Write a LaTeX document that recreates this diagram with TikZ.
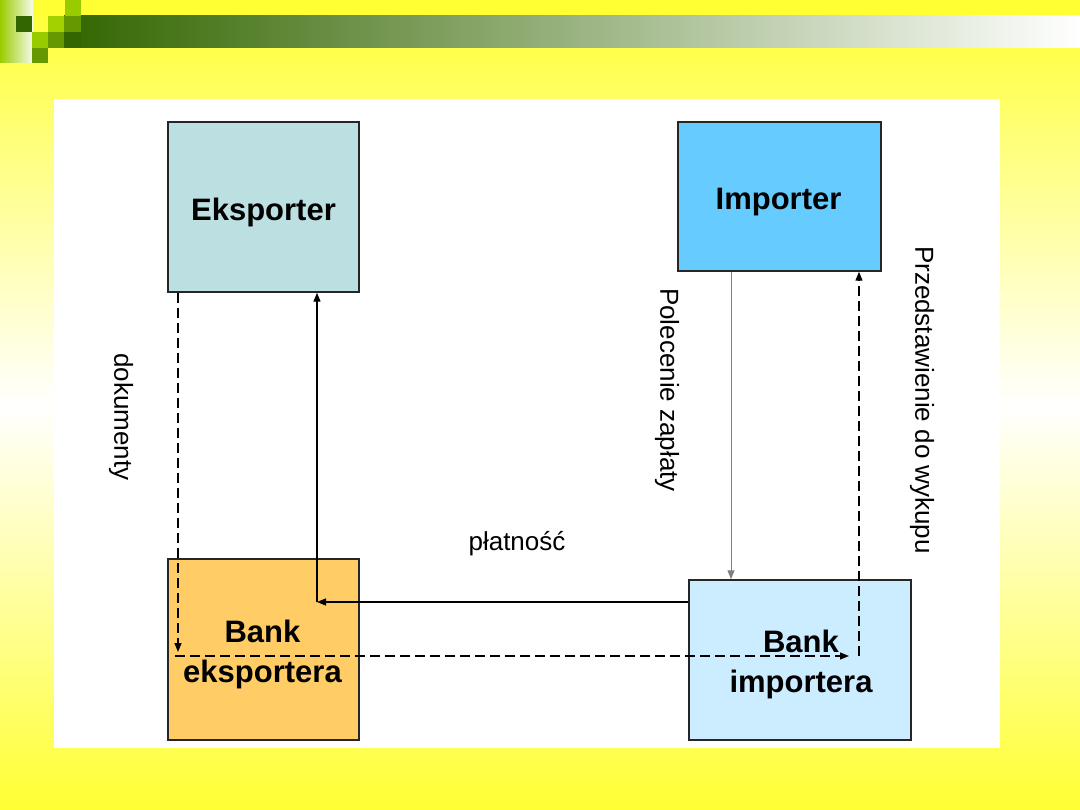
\documentclass[tikz,border=0pt]{standalone}
\usepackage{fontspec}
\setmainfont{Liberation Sans}
\usetikzlibrary{arrows.meta,calc}
\definecolor{bgyellow}{HTML}{FFFF33}
\definecolor{dkgreen}{HTML}{336600}
\definecolor{mdgreen}{HTML}{669900}
\definecolor{ltgreen}{HTML}{99CC00}
\definecolor{ceks}{HTML}{BCE0E2}
\definecolor{cimp}{HTML}{66CCFF}
\definecolor{cbe}{HTML}{FFCC66}
\definecolor{cbi}{HTML}{CCECFF}
\tikzset{
  box/.style={draw=black!85, line width=1.5pt, inner sep=0pt},
  boxtext/.style={inner sep=0pt, align=center,
    font=\fontsize{31}{40}\selectfont\bfseries},
  lbl/.style={font=\fontsize{26}{30}\selectfont, inner sep=0pt},
  conn/.style={line width=1.3pt, -{Triangle[length=9pt,width=7pt]}},
  dconn/.style={conn, dash pattern=on 10pt off 5pt},
}
\begin{document}
\begin{tikzpicture}[x=1pt,y=-1pt]
\useasboundingbox (0,0) rectangle (1080,810);
% background
\shade[top color=bgyellow, bottom color=bgyellow, middle color=white] (0,0) rectangle (1080,810);
\fill[bgyellow] (0,0) rectangle (1080,16);
% decoration
\shade[left color=ltgreen, right color=ltgreen!8] (0,0) rectangle (33,63);
\shade[left color=dkgreen, right color=white] (64,16) rectangle (1080,48);
\fill[dkgreen] (16,16) rectangle (32,32);
\fill[ltgreen] (65,0) rectangle (81,16);
\fill[ltgreen!90!yellow] (48,16) rectangle (64,32);
\fill[mdgreen] (64,16) rectangle (81,32);
\fill[ltgreen] (32,32) rectangle (48,48);
\fill[mdgreen] (48,32) rectangle (64,48);
\fill[dkgreen] (64,32) rectangle (81,48);
\fill[mdgreen] (32,48) rectangle (48,63);
% white panel
\fill[white] (54,99) rectangle (1000,748);
% boxes
\node[box, fill=ceks, minimum width=191pt, minimum height=170pt] (eks) at (263.5,207) {};
\node[box, fill=cimp, minimum width=203pt, minimum height=149pt] (imp) at (779.5,196.5) {};
\node[box, fill=cbe, minimum width=191pt, minimum height=181pt] (be) at (263.5,649.5) {};
\node[box, fill=cbi, minimum width=222pt, minimum height=160pt] (bi) at (800,660) {};
\node[boxtext] (teks) at ($(eks.center)+(0,5)$) {Eksporter};
\node[boxtext] (timp) at ($(imp.center)+(-1,6)$) {Importer};
\node[boxtext] (tbe) at ($(be.center)+(-1,5)$) {Bank\\eksportera};
\node[boxtext] (tbi) at ($(bi.center)+(1,4)$) {Bank\\importera};
% helper coordinates
\coordinate (d1) at (178,652);
\coordinate (d2) at (175,656);
\coordinate (d3) at (849,656);
\coordinate (p1) at (317,602);
\coordinate (q) at (731,0);
\coordinate (r) at (859,656);
% connectors
\draw[dconn] (eks.south -| d1) -- (d1);
\draw[dconn] (d2) -- (d3);
\draw[conn] (bi.west |- p1) -- (p1);
\draw[conn] (p1) -- (eks.south -| p1);
\draw[conn, draw=black!50, line width=1pt] (imp.south -| q) -- (bi.north -| q);
\draw[dconn] (r) -- (imp.south -| r);
% labels
\node[lbl, rotate=-90] (ldok) at (121,417) {dokumenty};
\node[lbl, rotate=-90] (lpol) at (667,390) {Polecenie zapłaty};
\node[lbl, rotate=-90] (lprz) at (922,400) {Przedstawienie do wykupu};
\node[lbl] (lpl) at (517,544) {płatność};
\end{tikzpicture}
\end{document}
